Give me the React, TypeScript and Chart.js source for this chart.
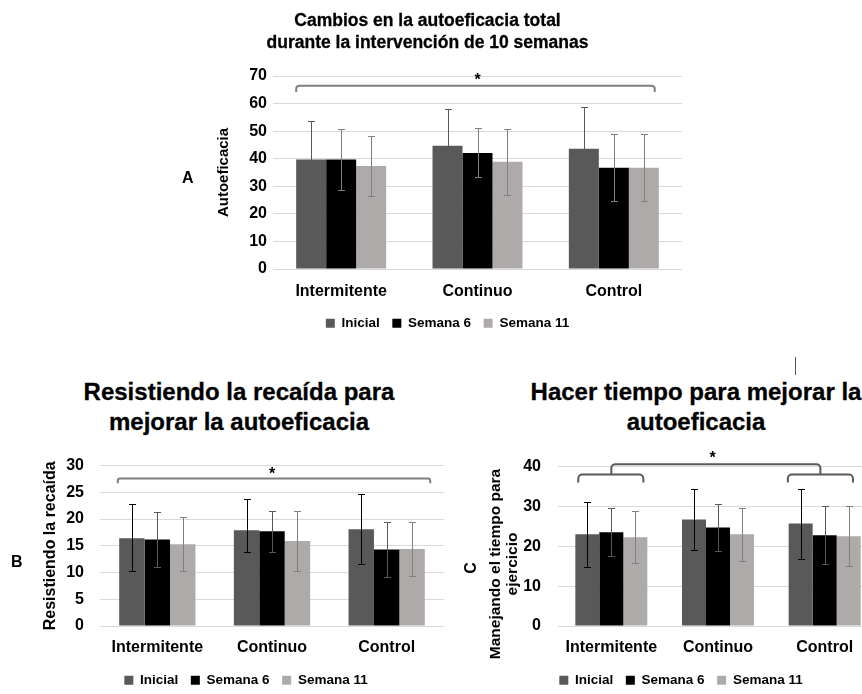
import React, { useEffect, useRef } from "react";
import { Chart, registerables } from "chart.js";

Chart.register(...registerables);

const FONT = "'Liberation Sans', Arial, Helvetica, sans-serif";

// ---------- data ----------
const categories = ["Intermitente", "Continuo", "Control"];
const seriesLabels = ["Inicial", "Semana 6", "Semana 11"];
const seriesColors = ["#595959", "#000000", "#aeaaaa"];

// Panel A: Autoeficacia total
const aInicial = [39.7, 44.7, 43.6];
const aInicialSd = [13.9, 13.2, 15.1];
const aSemana6 = [39.7, 42.1, 36.7];
const aSemana6Sd = [11.0, 8.9, 12.2];
const aSemana11 = [37.4, 38.9, 36.7];
const aSemana11Sd = [11.0, 12.0, 12.2];
const aTicks = { max: 70, step: 10 };

// Panel B: Resistiendo la recaída
const bInicial = [16.4, 17.9, 18.1];
const bInicialSdUp = [6.4, 5.8, 6.6];
const bInicialSdDown = [6.2, 4.0, 6.5];
const bSemana6 = [16.2, 17.7, 14.3];
const bSemana6Sd = [5.1, 3.9, 5.2];
const bSemana11 = [15.3, 15.9, 14.4];
const bSemana11Sd = [5.05, 5.6, 5.0];
const bTicks = { max: 30, step: 5 };

// Panel C: Manejando el tiempo para ejercicio
const cInicial = [23.0, 26.7, 25.7];
const cInicialSd = [8.1, 7.7, 8.8];
const cSemana6 = [23.5, 24.7, 22.75];
const cSemana6Sd = [6.0, 5.8, 7.25];
const cSemana11 = [22.3, 23.0, 22.5];
const cSemana11Sd = [6.5, 6.65, 7.5];
const cTicks = { max: 40, step: 10 };

// significance brackets (category index units, value units)
const aBrackets = [{ from: -0.33, to: 2.3, top: 66.5, leg: 64.2 }];
const aStars = [{ at: 1.0, value: 70.0 }];
const bBrackets = [{ from: -0.345, to: 2.38, top: 27.6, leg: 26.7 }];
const bStars = [{ at: 1.0, value: 29.1 }];
const cBrackets = [
  { from: -0.31, to: 0.3, top: 38.0, leg: 36.0 },
  { from: 1.655, to: 2.265, top: 38.0, leg: 36.0 },
  { from: 0.0, to: 1.96, top: 40.6, leg: 38.0 },
];
const cStars = [{ at: 0.95, value: 43.0 }];

type Bracket = { from: number; to: number; top: number; leg: number };
type Star = { at: number; value: number };

const errorBarsPlugin = {
  id: "errorBars",
  afterDatasetsDraw(chart: any) {
    const { ctx } = chart;
    const y = chart.scales.y;
    chart.data.datasets.forEach((ds: any, di: number) => {
      const meta = chart.getDatasetMeta(di);
      if (meta.hidden) return;
      meta.data.forEach((bar: any, i: number) => {
        const v = ds.data[i];
        const up = ds.errUp[i];
        const down = ds.errDown[i];
        const x = Math.round(bar.x) + 0.5;
        const top = Math.round(y.getPixelForValue(v + up)) + 0.5;
        const bot = Math.round(y.getPixelForValue(v - down)) + 0.5;
        const cap = 3.5;
        ctx.save();
        ctx.strokeStyle = ds.errorColor;
        ctx.lineWidth = 1;
        ctx.beginPath();
        ctx.moveTo(x, top);
        ctx.lineTo(x, bot);
        ctx.moveTo(x - cap, top);
        ctx.lineTo(x + cap, top);
        ctx.moveTo(x - cap, bot);
        ctx.lineTo(x + cap, bot);
        ctx.stroke();
        ctx.restore();
      });
    });
  },
};

function makeAnnotPlugin(brackets: Bracket[], stars: Star[], color: string, width: number) {
  return {
    id: "sigBrackets",
    afterDatasetsDraw(chart: any) {
      const { ctx } = chart;
      const xs = chart.scales.x;
      const ys = chart.scales.y;
      ctx.save();
      ctx.strokeStyle = color;
      ctx.lineWidth = width;
      ctx.lineJoin = "round";
      brackets.forEach((b) => {
        const x1 = xs.getPixelForValue(b.from);
        const x2 = xs.getPixelForValue(b.to);
        const yt = ys.getPixelForValue(b.top);
        const yl = ys.getPixelForValue(b.leg);
        const r = Math.min(4, Math.abs(yl - yt) / 2);
        ctx.beginPath();
        ctx.moveTo(x1, yl);
        ctx.arcTo(x1, yt, x2, yt, r);
        ctx.arcTo(x2, yt, x2, yl, r);
        ctx.lineTo(x2, yl);
        ctx.stroke();
      });
      ctx.fillStyle = "#000";
      ctx.font = `bold 16px ${FONT}`;
      ctx.textAlign = "center";
      ctx.textBaseline = "alphabetic";
      stars.forEach((s) => {
        const x = xs.getPixelForValue(s.at);
        const y = ys.getPixelForValue(s.value);
        ctx.fillText("*", x, y + 8.5);
      });
      ctx.restore();
    },
  };
}

type PanelProps = {
  left: number;
  top: number;
  width: number;
  height: number;
  padTop: number;
  yWidth: number;
  rightWidth: number;
  xHeight: number;
  xTickPad: number;
  yTickPad: number;
  ticks: { max: number; step: number };
  yTitle?: string;
  yTitleSize?: number;
  yTitlePad?: number;
  catPct: number;
  values: number[][];
  errUp: number[][];
  errDown: number[][];
  errorColors: string[];
  brackets: Bracket[];
  stars: Star[];
  bracketColor: string;
  bracketWidth: number;
};

function BarPanel(p: PanelProps) {
  const ref = useRef<HTMLCanvasElement | null>(null);
  useEffect(() => {
    if (!ref.current) return;
    const chart = new Chart(ref.current, {
      type: "bar",
      data: {
        labels: categories,
        datasets: seriesLabels.map((label, i) => ({
          label,
          data: p.values[i],
          errUp: p.errUp[i],
          errDown: p.errDown[i],
          errorColor: p.errorColors[i],
          backgroundColor: seriesColors[i],
          borderWidth: 0,
          barPercentage: 1,
          categoryPercentage: p.catPct,
        })) as any,
      },
      options: {
        responsive: false,
        animation: false,
        events: [],
        layout: { padding: { top: p.padTop, left: 0, right: 0, bottom: 0 } },
        plugins: {
          title: { display: false },
          tooltip: { enabled: false },
          legend: {
            position: "bottom",
            labels: {
              boxWidth: 9,
              boxHeight: 9,
              padding: 12.5,
              color: "#000",
              font: { family: FONT, weight: "bold", size: 13.5 },
            },
          },
        },
        scales: {
          x: {
            grid: { display: false },
            border: { display: false },
            ticks: {
              color: "#000",
              padding: p.xTickPad,
              font: { family: FONT, weight: "bold", size: 16 },
            },
            afterFit: (s: any) => {
              s.height = p.xHeight;
            },
          },
          y: {
            min: 0,
            max: p.ticks.max,
            grid: { color: "#d9d9d9", lineWidth: 1, drawTicks: false },
            border: { display: false },
            ticks: {
              stepSize: p.ticks.step,
              color: "#000",
              padding: p.yTickPad,
              font: { family: FONT, weight: "bold", size: 16 },
            },
            title: p.yTitle
              ? {
                  display: true,
                  text: p.yTitle,
                  color: "#000",
                  padding: { top: p.yTitlePad ?? 0, bottom: 0 },
                  font: { family: FONT, weight: "bold", size: p.yTitleSize ?? 15 },
                }
              : { display: false },
            afterFit: (s: any) => {
              s.width = p.yWidth;
            },
          },
          pad: {
            type: "linear",
            position: "right",
            display: true,
            grid: { display: false },
            border: { display: false },
            ticks: { display: false },
            afterFit: (s: any) => {
              s.width = p.rightWidth;
            },
          },
        },
      } as any,
      plugins: [errorBarsPlugin, makeAnnotPlugin(p.brackets, p.stars, p.bracketColor, p.bracketWidth)],
    });
    return () => chart.destroy();
  }, []);
  return (
    <canvas
      ref={ref}
      width={p.width}
      height={p.height}
      style={{ position: "absolute", left: p.left, top: p.top, width: p.width, height: p.height }}
    />
  );
}

const abs = (o: React.CSSProperties): React.CSSProperties => ({ position: "absolute", ...o });

export default function App() {
  return (
    <div
      style={{
        position: "absolute",
        left: 0,
        top: 0,
        width: 862,
        height: 694,
        overflow: "hidden",
        background: "#fff",
        fontFamily: FONT,
        fontWeight: "bold",
        color: "#000",
      }}
    >
      <BarPanel
        left={180}
        top={50}
        width={535}
        height={290}
        padTop={26}
        yWidth={93}
        rightWidth={33}
        xHeight={35}
        xTickPad={5}
        yTickPad={6}
        ticks={aTicks}
        yTitle="Autoeficacia"
        yTitleSize={15}
        yTitlePad={35}
        catPct={0.66}
        values={[aInicial, aSemana6, aSemana11]}
        errUp={[aInicialSd, aSemana6Sd, aSemana11Sd]}
        errDown={[aInicialSd, aSemana6Sd, aSemana11Sd]}
        errorColors={["#595959", "#7f7f7f", "#7f7f7f"]}
        brackets={aBrackets}
        stars={aStars}
        bracketColor="#7f7f7f"
        bracketWidth={2}
      />
      <BarPanel
        left={10}
        top={440}
        width={472}
        height={257}
        padTop={24}
        yWidth={90}
        rightWidth={38}
        xHeight={35}
        xTickPad={3.5}
        yTickPad={16}
        ticks={bTicks}
        yTitle="Resistiendo la recaída"
        yTitleSize={16}
        yTitlePad={31}
        catPct={0.665}
        values={[bInicial, bSemana6, bSemana11]}
        errUp={[bInicialSdUp, bSemana6Sd, bSemana11Sd]}
        errDown={[bInicialSdDown, bSemana6Sd, bSemana11Sd]}
        errorColors={["#000000", "#595959", "#7f7f7f"]}
        brackets={bBrackets}
        stars={bStars}
        bracketColor="#7f7f7f"
        bracketWidth={2}
      />
      <BarPanel
        left={484}
        top={440}
        width={394}
        height={257}
        padTop={24}
        yWidth={74}
        rightWidth={0}
        xHeight={35}
        xTickPad={3.5}
        yTickPad={17}
        ticks={cTicks}
        catPct={0.675}
        values={[cInicial, cSemana6, cSemana11]}
        errUp={[cInicialSd, cSemana6Sd, cSemana11Sd]}
        errDown={[cInicialSd, cSemana6Sd, cSemana11Sd]}
        errorColors={["#000000", "#595959", "#7f7f7f"]}
        brackets={cBrackets}
        stars={cStars}
        bracketColor="#595959"
        bracketWidth={2}
      />

      {/* titles */}
      <div style={abs({ left: 127.5, top: 9, width: 600, textAlign: "center", fontSize: 17.5, lineHeight: "22px", whiteSpace: "nowrap", WebkitTextStroke: "0.3px #000" })}>
        Cambios en la autoeficacia total
        <br />
        durante la intervención de 10 semanas
      </div>
      <div style={abs({ left: -61, top: 377, width: 600, textAlign: "center", fontSize: 24, lineHeight: "30px", whiteSpace: "nowrap", WebkitTextStroke: "0.3px #000" })}>
        Resistiendo la recaída para
        <br />
        mejorar la autoeficacia
      </div>
      <div style={abs({ left: 396, top: 377, width: 600, textAlign: "center", fontSize: 24, lineHeight: "30px", whiteSpace: "nowrap", WebkitTextStroke: "0.3px #000" })}>
        Hacer tiempo para mejorar la
        <br />
        autoeficacia
      </div>

      {/* y title of panel C */}
      <div
        style={abs({
          left: 502.5 - 110,
          top: 564 - 17,
          width: 220,
          height: 34,
          textAlign: "center",
          fontSize: 15.5,
          lineHeight: "17px",
          whiteSpace: "nowrap",
          transform: "rotate(-90deg)",
        })}
      >
        Manejando el tiempo para
        <br />
        ejercicio
      </div>

      {/* panel letters */}
      <div style={abs({ left: 182, top: 169, fontSize: 16, lineHeight: "18px" })}>A</div>
      <div style={abs({ left: 11, top: 553, fontSize: 16, lineHeight: "18px" })}>B</div>
      <div style={abs({ left: 465, top: 559, fontSize: 16, lineHeight: "18px", transform: "rotate(-90deg)" })}>C</div>

      {/* small stray mark */}
      <div style={abs({ left: 795, top: 357, width: 1, height: 18, background: "#555" })} />
    </div>
  );
}
